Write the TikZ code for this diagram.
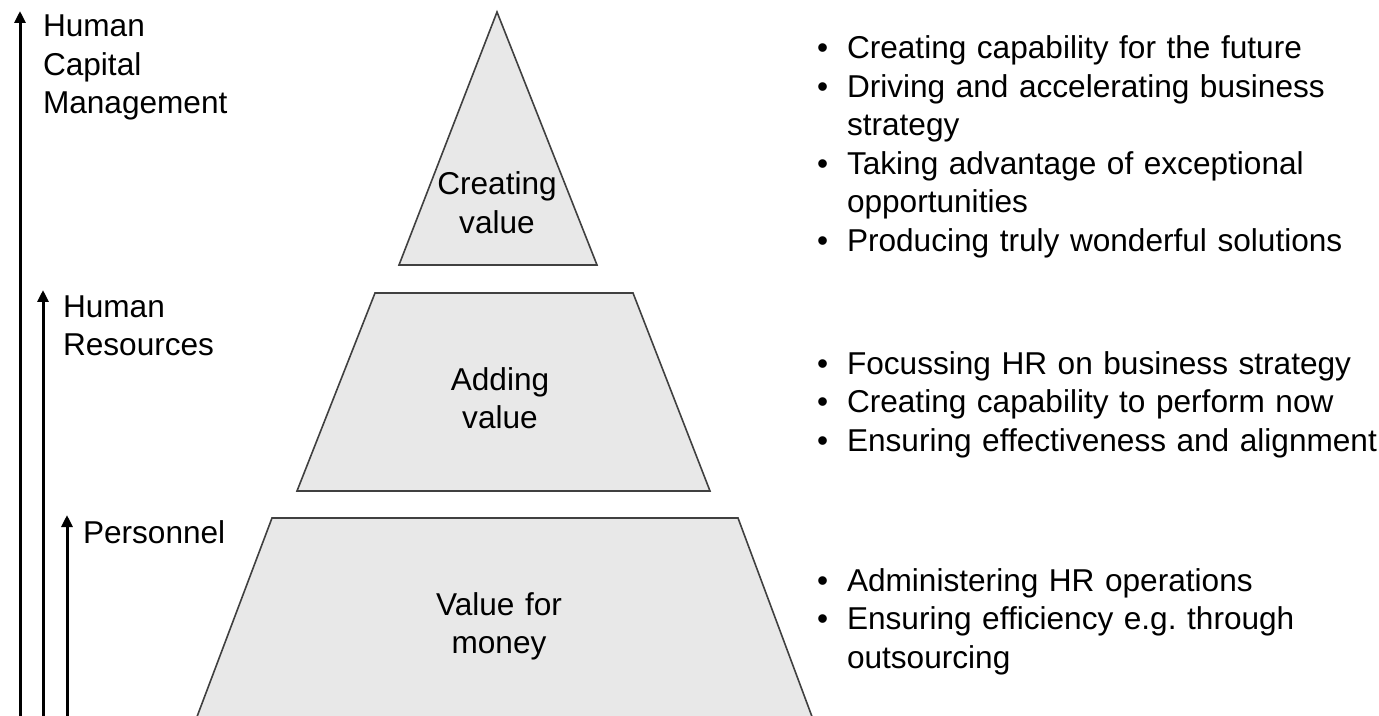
\documentclass[tikz,border=0pt]{standalone}
\usepackage{fontspec}
\setmainfont{Liberation Sans}
\usetikzlibrary{arrows.meta}
\tikzset{
    % Colors
    level fill/.style={fill=black!9},
    level line/.style={draw=black!75,line width=.8pt},
    level style/.style={level fill,level line},
    %
    % Text
    label text/.style={inner sep=0pt,outer sep=0pt,font=\fontsize{15.8}{19.25}\selectfont\frenchspacing},
    level name/.style={label text,text width=#1,align=left,anchor=base west},
    level name/.default=120pt,
    step text/.style={label text,text width=80pt,align=center,anchor=base},
    list text/.style={label text,text width=290pt,align=left,anchor=base west},
    %
    % Arrows
    arrow tip/.tip={Triangle[length=6pt,width=5.5pt]},
    arr/.style={-{arrow tip},line width=1.5pt}
}
\newcommand{\hritem}[1]{\noindent\hangindent=15pt\hangafter=1\makebox[15pt][l]{\textbullet}#1\par}

\begin{document}
\begin{tikzpicture}[x=.5pt,y=-.5pt]
        \useasboundingbox (0,0) rectangle (1379,716);
        % pyramid
        \draw[level style] (497,12) -- (597,265) -- (399,265) -- cycle;
        \draw[level style] (375,293) -- (633,293) -- (710,491) -- (297,491) -- cycle;
        \draw[level style] (272,518) -- (738,518) -- (814,722) -- (195,722) -- cycle;
        \node[step text] (creating) at (497,195) {Creating\\value};
        \node[step text] (adding) at (500,390) {Adding\\value};
        \node[step text] (money) at (499,615) {Value for\\money};
        % levels
        \coordinate (hcm foot) at (20,722);
        \coordinate (hcm top) at (20,11);
        \coordinate (hr foot) at (43,722);
        \coordinate (hr top) at (43,290);
        \coordinate (pers foot) at (67,722);
        \coordinate (pers top) at (67,515);
        \draw[arr] (hcm foot) -- (hcm top);
        \draw[arr] (hr foot) -- (hr top);
        \draw[arr] (pers foot) -- (pers top);
        \node[level name] (hcm) at (43,37) {Human\\Capital\\Management};
        \node[level name] (hr) at (63,317) {Human\\Resources};
        \node[level name] (pers) at (83,543) {Personnel};
        % lists
        \node[list text] (hcm list) at (817,59) {%
            \hritem{Creating capability for the future}
            \hritem{Driving and accelerating business\newline strategy}
            \hritem{Taking advantage of exceptional\newline opportunities}
            \hritem{Producing truly wonderful solutions}};
        \node[list text] (hr list) at (817,374) {%
            \hritem{Focussing HR on business strategy}
            \hritem{Creating capability to perform now}
            \hritem{Ensuring effectiveness and alignment}};
        \node[list text] (pers list) at (817,591) {%
            \hritem{Administering HR operations}
            \hritem{Ensuring efficiency e.g. through\newline outsourcing}};
    \end{tikzpicture}
\end{document}
